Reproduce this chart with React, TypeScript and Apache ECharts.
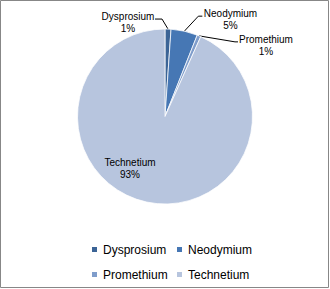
import React, { useEffect, useRef } from "react";
import * as echarts from "echarts";

const categories = ["Dysprosium", "Neodymium", "Promethium", "Technetium"];
const values = [1.1, 4.9, 0.7, 93.3];
const colors = ["#3B6496", "#4677B4", "#7F9DCB", "#B7C5DE"];

const CX = 165;
const CY = 116.5;
const R = 87.5;

export default function App() {
  const ref = useRef<HTMLDivElement>(null);
  useEffect(() => {
    document.body.style.margin = "0";
    const chart = echarts.init(ref.current!, null, { renderer: "svg" });
    const labelPos: Record<number, { x: number; y: number; line?: number[][] }> = {
      0: { x: 128, y: 22, line: [[0, 0], [-6, -10], [-13, -10]] },
      1: { x: 230.5, y: 19, line: [[0, 0], [14, -15], [18, -15]] },
      2: { x: 266, y: 45, line: [[0, 0], [36, 6], [39, 6]] },
      3: { x: 130, y: 168 },
    };
    chart.setOption({
      animation: false,
      graphic: [
        {
          type: "rect",
          shape: { x: 0.5, y: 0.5, width: 328, height: 287 },
          style: { fill: "none", stroke: "#878787", lineWidth: 1 },
          silent: true,
        },
      ],
      legend: {
        left: 85,
        top: 235,
        width: 172,
        itemWidth: 7,
        itemHeight: 7,
        itemGap: 6,
        icon: "rect",
        data: categories,
        textStyle: {
          fontFamily: "Liberation Sans",
          fontSize: 12,
          color: "#000",
          width: 66,
          lineHeight: 19,
          padding: [0, 0, 0, 0],
        },
      },
      series: [
        {
          type: "pie",
          center: [CX, CY],
          radius: R,
          startAngle: 90,
          clockwise: true,
          percentPrecision: 0,
          itemStyle: { borderColor: "#fff", borderWidth: 0.75 },
          label: {
            show: true,
            formatter: "{b}\n{d}%",
            fontFamily: "Liberation Sans",
            fontSize: 10,
            lineHeight: 12,
            color: "#000",
            align: "center",
            overflow: "none",
            width: 80,
          },
          labelLine: {
            show: true,
            lineStyle: { color: "#000", width: 1 },
          },
          labelLayout: (params: any) => {
            const p = labelPos[params.dataIndex];
            const idx = params.dataIndex;
            const total = values.reduce((a, b) => a + b, 0);
            let acc = 0;
            for (let i = 0; i < idx; i++) acc += values[i];
            const mid = ((acc + values[idx] / 2) / total) * Math.PI * 2;
            const ax = CX + R * Math.sin(mid);
            const ay = CY - R * Math.cos(mid);
            const out: any = {
              x: p.x,
              y: p.y,
              align: "center",
              verticalAlign: "middle",
            };
            if (p.line) {
              out.labelLinePoints = p.line.map((q) => [ax + q[0], ay + q[1]]);
            } else {
              out.labelLinePoints = [[ax, ay], [ax, ay], [ax, ay]];
            }
            return out;
          },
          data: categories.map((name, i) => ({
            name,
            value: values[i],
            itemStyle: { color: colors[i] },
            labelLine: { show: i !== 3 },
          })),
        },
      ],
    });
    return () => chart.dispose();
  }, []);
  return <div ref={ref} style={{ width: 330, height: 289 }} />;
}
